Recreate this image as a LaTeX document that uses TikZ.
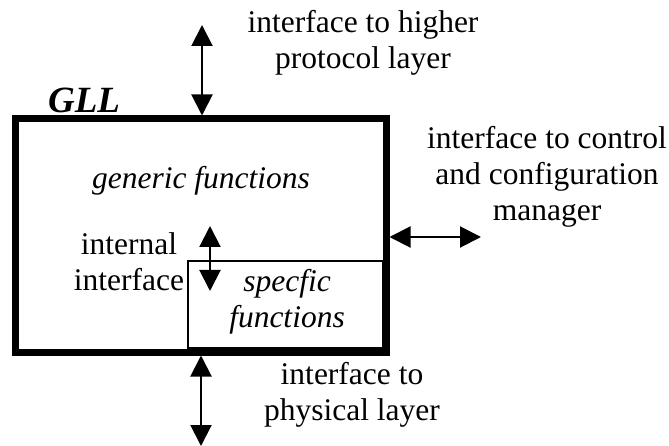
\documentclass[tikz,border=0pt]{standalone}
\usepackage{fontspec}
\setmainfont{Liberation Serif}
\usetikzlibrary{arrows.meta}
\begin{document}
\begin{tikzpicture}[x=1pt,y=-1pt,
  lbl/.style={align=center,font=\fontsize{31.5}{36}\selectfont,inner sep=0pt},
  ilbl/.style={lbl,font=\fontsize{31.5}{36}\selectfont\itshape},
  iface/.style={{Triangle[width=21pt,length=21pt]}-{Triangle[width=21pt,length=21pt]},line width=2pt},
  outerbox/.style={draw,line width=7pt,inner sep=0pt,outer sep=3.5pt},
  innerbox/.style={draw,line width=1.5pt,inner sep=0pt,outer sep=0pt}]
\useasboundingbox (0,0) rectangle (669,446);
% main GLL block and the specific-functions block in its corner
\node[outerbox,minimum width=370.5pt,minimum height=233pt] (gll) at (200.75,235.5) {};
\node[innerbox,minimum width=195pt,minimum height=87pt] (spec) at (285.5,304.5) {};
\node[ilbl] (spectxt) at (287,302) {specfic\\functions};
\node[font=\fontsize{37}{40}\selectfont\bfseries\itshape,inner sep=0pt] (name) at (84,100) {GLL};
\node[ilbl] (gen) at (201,181) {generic functions};
\node[lbl] (intl) at (129,262) {internal\\interface};
% free ends of the interface arrows
\coordinate (hi) at (202,25);
\coordinate (ia) at (210,226);
\coordinate (ib) at (210,291);
\coordinate (cm) at (481,237);
\coordinate (phy) at (201,446);
\draw[iface] (hi) -- (hi |- gll.north);
\draw[iface] (ia) -- (ib);
\draw[iface] (gll.east |- cm) -- (cm);
\draw[iface] (gll.south -| phy) -- (phy);
% interface labels
\node[lbl] (hitxt) at (363,43) {interface to higher\\protocol layer};
\node[lbl] (cmtxt) at (547,177) {interface to control\\and configuration\\manager};
\node[lbl] (phytxt) at (352,395) {interface to\\physical layer};
\end{tikzpicture}
\end{document}
